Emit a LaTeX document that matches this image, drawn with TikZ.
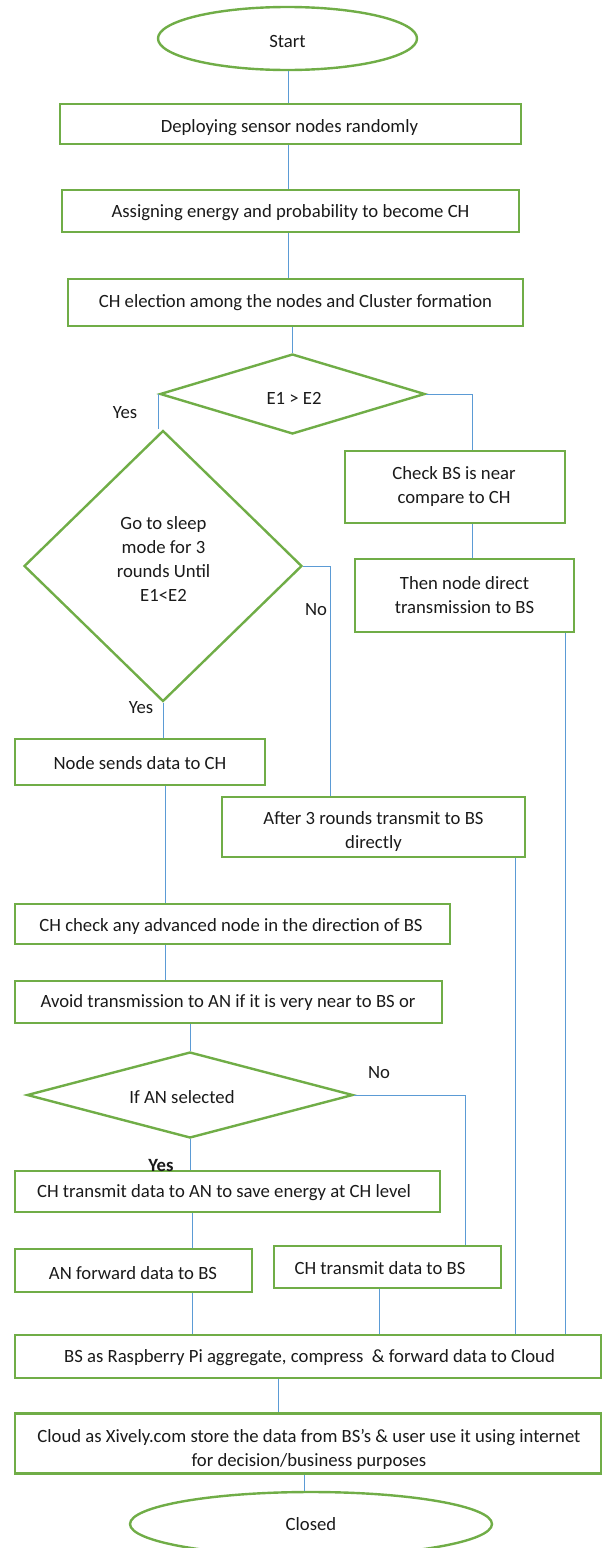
\documentclass[tikz,border=0pt]{standalone}
\usepackage{fontspec}
\setmainfont{Carlito}
\usetikzlibrary{shapes.geometric}
\definecolor{gr}{HTML}{70AD47}
\definecolor{bl}{HTML}{5B9BD5}
\definecolor{tx}{HTML}{1A1A1A}
\tikzset{
  box/.style={draw=gr,line width=2.4pt,rectangle,inner sep=0pt},
  dia/.style={draw=gr,line width=2.4pt,diamond,inner sep=0pt},
  ell/.style={draw=gr,line width=2.4pt,ellipse,inner sep=0pt},
  txt/.style={inner sep=0pt,align=center,text=tx,font=\fontsize{18.7}{24}\selectfont},
  conn/.style={draw=bl,line width=1pt}
}
\begin{document}
\begin{tikzpicture}[x=1pt,y=-1pt]
\useasboundingbox (0,0) rectangle (603,1548);
% shapes
\node[ell,minimum width=259,minimum height=63] (start) at (287.5,38.5) {};
\node[box,minimum width=461,minimum height=40] (b1) at (290.5,124) {};
\node[box,minimum width=457,minimum height=42] (b2) at (290.5,211) {};
\node[box,minimum width=455,minimum height=47] (b3) at (295.5,302.5) {};
\node[dia,minimum width=265,minimum height=80] (d1) at (292.5,394) {};
\node[dia,minimum width=278,minimum height=271] (d2) at (163,566) {};
\node[box,minimum width=220,minimum height=72] (chk) at (455,487) {};
\node[box,minimum width=219,minimum height=73] (then) at (464.5,595.5) {};
\node[box,minimum width=250,minimum height=46] (nsd) at (140,762) {};
\node[box,minimum width=303,minimum height=60] (after) at (373.5,827) {};
\node[box,minimum width=435,minimum height=40] (chkan) at (232.5,924) {};
\node[box,minimum width=427,minimum height=42] (avoid) at (228.5,1002) {};
\node[dia,minimum width=326,minimum height=86] (d3) at (190,1095) {};
\node[box,minimum width=425,minimum height=41] (toan) at (227.5,1191.5) {};
\node[box,minimum width=237,minimum height=43] (anf) at (133.5,1270.5) {};
\node[box,minimum width=227,minimum height=42] (chbs) at (387.5,1267) {};
\node[box,minimum width=586,minimum height=43] (bs) at (308,1356.5) {};
\node[box,minimum width=586,minimum height=60] (cloud) at (308,1443.5) {};
\node[ell,minimum width=362,minimum height=64] (closed) at (311,1524) {};
% texts
\node[txt] (startt) at (287.5,41) {Start};
\node[txt] (b1t) at (289.5,128) {Deploying sensor nodes randomly};
\node[txt] (b2t) at (290.5,213) {Assigning energy and probability to become CH};
\node[txt] (b3t) at (295.5,303) {CH election among the nodes and Cluster formation};
\node[txt] (d1t) at (294,398) {E1 > E2};
\node[txt] (d2t) at (163.5,559) {Go to sleep\\mode for 3\\rounds Until\\E1<E2};
\node[txt] (chkt) at (454,487) {Check BS is near\\compare to CH};
\node[txt] (thent) at (464.5,595) {Then node direct\\transmission to BS};
\node[txt] (nsdt) at (140,763) {Node sends data to CH};
\node[txt] (aftert) at (373.5,832) {After 3 rounds transmit to BS\\directly};
\node[txt] (chkant) at (231,927) {CH check any advanced node in the direction of BS};
\node[txt] (avoidt) at (228,1003) {Avoid transmission to AN if it is very near to BS or};
\node[txt] (d3t) at (182,1097) {If AN selected};
\node[txt] (toant) at (224,1193) {CH transmit data to AN to save energy at CH level};
\node[txt] (anft) at (133,1273) {AN forward data to BS};
\node[txt] (chbst) at (380,1268) {CH transmit data to BS};
\node[txt] (bst) at (309.5,1358) {BS as Raspberry Pi aggregate, compress \ \& forward data to Cloud};
\node[txt] (cloudt) at (309,1449) {Cloud as Xively.com store the data from BS’s \& user use it using internet\\for decision/business purposes};
\node[txt] (closedt) at (311,1524) {Closed};
% labels
\node[txt] (y1) at (125,413) {Yes};
\node[txt] (n1) at (316,610) {No};
\node[txt] (y2) at (141,708) {Yes};
\node[txt] (n2) at (379,1073) {No};
\node[txt,font=\fontsize{18.7}{24}\selectfont\bfseries] (y3) at (161,1165) {Yes};
% column coordinates
\coordinate (cS) at (288,0);
\coordinate (cA) at (472,0);
\coordinate (cB) at (330,0);
\coordinate (cC) at (565,0);
\coordinate (cD) at (515,0);
\coordinate (cE) at (465,0);
\coordinate (cF) at (379,0);
\coordinate (cG) at (192,0);
\coordinate (cH) at (165,0);
\coordinate (cJ) at (278,0);
\coordinate (cK) at (304,0);
% connectors
\draw[conn] (start.south -| cS) -- (b1.north -| cS);
\draw[conn] (b1.south -| cS) -- (b2.north -| cS);
\draw[conn] (b2.south -| cS) -- (b3.north -| cS);
\draw[conn] (b3.south -| d1) -- (d1.north);
\draw[conn] (d1.west) -- (d1.west |- d2.north);
\draw[conn] (d1.east) -| (chk.north -| cA);
\draw[conn] (chk.south -| cA) -- (then.north -| cA);
\draw[conn] (then.south -| cC) -- (bs.north -| cC);
\draw[conn] (d2.east) -| (after.north -| cB);
\draw[conn] (d2.south) -- (nsd.north -| d2.south);
\draw[conn] (nsd.south -| cH) -- (chkan.north -| cH);
\draw[conn] (after.south -| cD) -- (bs.north -| cD);
\draw[conn] (chkan.south -| cH) -- (avoid.north -| cH);
\draw[conn] (avoid.south -| d3) -- (d3.north);
\draw[conn] (d3.east) -| (chbs.north -| cE);
\draw[conn] (d3.south) -- (toan.north -| d3.south);
\draw[conn] (toan.south -| cG) -- (anf.north -| cG);
\draw[conn] (anf.south -| cG) -- (bs.north -| cG);
\draw[conn] (chbs.south -| cF) -- (bs.north -| cF);
\draw[conn] (bs.south -| cJ) -- (cloud.north -| cJ);
\draw[conn] (cloud.south -| cK) -- (closed.north -| cK);
\end{tikzpicture}
\end{document}
